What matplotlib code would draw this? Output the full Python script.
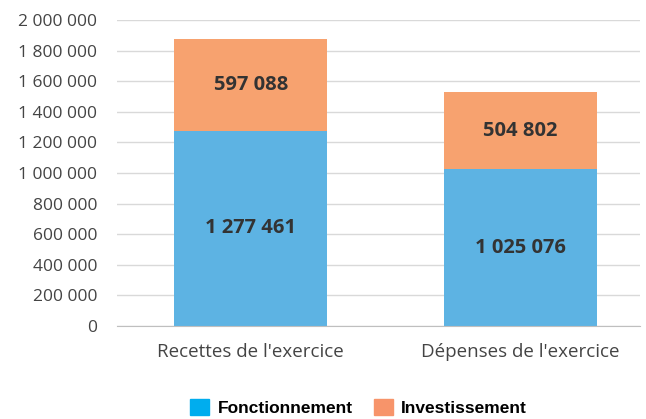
import matplotlib.pyplot as plt
import numpy as np
from matplotlib.patches import Patch

categories = ["Recettes de l'exercice", "Dépenses de l'exercice"]
fonctionnement = [1277461, 1025076]
investissement = [597088, 504802]
yticks = [0, 200000, 400000, 600000, 800000, 1000000, 1200000,
          1400000, 1600000, 1800000, 2000000]


def fmt(v):
    return "{:,}".format(v).replace(",", " ")


fig = plt.figure(figsize=(6.46, 4.19), dpi=100)
ax = fig.add_axes([0.181, 0.222, 0.809, 0.730])

x = np.arange(len(categories))
w = 0.567
c_fonc = "#5DB3E3"
c_inv = "#F7A26F"

ax.bar(x, fonctionnement, w, color=c_fonc, zorder=2)
ax.bar(x, investissement, w, bottom=fonctionnement, color=c_inv, zorder=2)

for i in range(len(categories)):
    ax.text(x[i], fonctionnement[i] / 2, fmt(fonctionnement[i]), ha="center",
            va="center", fontsize=14.5, fontweight="bold", color="#333333",
            family="Open Sans", zorder=3)
    ax.text(x[i], fonctionnement[i] + investissement[i] / 2, fmt(investissement[i]),
            ha="center", va="center", fontsize=14.5, fontweight="bold",
            color="#333333", family="Open Sans", zorder=3)

ax.set_xlim(-0.496, 1.441)
ax.set_ylim(0, 2000000)
ax.set_yticks(yticks)
ax.set_yticklabels([fmt(v) for v in yticks], family="Open Sans", fontsize=12.5,
                   color="#444444")
ax.set_xticks(x)
ax.set_xticklabels(categories, family="Open Sans", fontsize=13.5, color="#444444")
ax.tick_params(axis="both", length=0)
ax.tick_params(axis="x", pad=12)
ax.tick_params(axis="y", pad=14)
ax.grid(axis="y", color="#D9D9D9", linewidth=1, zorder=1)
for s in ["top", "right", "left"]:
    ax.spines[s].set_visible(False)
ax.spines["bottom"].set_color("#BFBFBF")
ax.spines["bottom"].set_zorder(3)

handles = [Patch(color="#00ADEE", label="Fonctionnement"),
           Patch(color="#F7946A", label="Investissement")]
fig.legend(handles=handles, loc="lower center", bbox_to_anchor=(0.555, -0.03),
           ncol=2, frameon=False, handlelength=1.1, handleheight=1.1,
           columnspacing=1.2, handletextpad=0.5,
           prop={"family": ["Liberation Sans Narrow", "Liberation Sans"],
                 "weight": "bold", "size": 12.5})

plt.savefig("out.png", dpi=100)
